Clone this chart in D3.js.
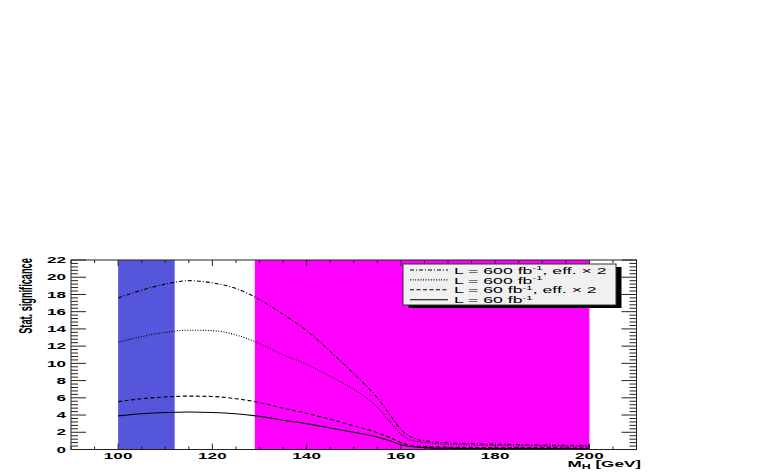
<!DOCTYPE html>
<html><head><meta charset="utf-8">
<script src="https://cdn.jsdelivr.net/npm/d3@7"></script>
<style>body{margin:0;background:#fff}svg{display:block}</style>
</head><body><svg id="c" width="763" height="474"></svg>
<script>
const masses = [100,105,110,115,120,125,130,135,140,145,150,155,158,160,162,165,170,175,180,185,190,195,200];
const sigL600eff2 = [17.6,18.5,19.2,19.6,19.35,18.7,17.4,15.7,13.8,11.4,8.8,6.0,3.8,2.3,1.5,1.0,0.78,0.68,0.62,0.57,0.53,0.5,0.48];
const sigL600     = [12.45,13.1,13.6,13.85,13.8,13.3,12.3,11.0,9.9,8.5,7.0,4.9,3.0,1.8,1.1,0.8,0.6,0.52,0.47,0.43,0.4,0.38,0.36];
const sigL60eff2  = [5.55,5.9,6.1,6.2,6.15,5.9,5.45,4.8,4.2,3.5,2.75,1.95,1.3,0.8,0.5,0.35,0.27,0.23,0.21,0.2,0.19,0.18,0.17];
const sigL60      = [3.9,4.15,4.3,4.35,4.3,4.15,3.85,3.4,3.0,2.5,2.0,1.45,0.95,0.55,0.35,0.22,0.14,0.12,0.11,0.1,0.1,0.09,0.09];
const bandBlue = [100,112];
const bandMagenta = [129,200];
const xTicks = [100,120,140,160,180,200];
const yTicks = [0,2,4,6,8,10,12,14,16,18,20,22];
const legendLabels = [
  {main:"L = 600 fb", sup:"-1", rest:", eff. \u00d7 2", dash:"4,2,1,2"},
  {main:"L = 600 fb", sup:"-1", rest:"", dash:"1,1.6"},
  {main:"L = 60 fb", sup:"-1", rest:", eff. \u00d7 2", dash:"4,2.5"},
  {main:"L = 60 fb", sup:"-1", rest:"", dash:null}
];
const seriesList = [sigL600eff2, sigL600, sigL60eff2, sigL60];

const svg = d3.select("#c");
const L=71, R=636.5, T=260, B=449.5;
const x = d3.scaleLinear().domain([90,210]).range([L,R]);
const y = d3.scaleLinear().domain([0,22]).range([B,T]);
const SX = 1.9; // horizontal text stretch
const font = "Liberation Sans, Arial, Helvetica, sans-serif";

function stext(px, py, anchor, size, weight){
  return svg.append("text").attr("transform",`translate(${px},${py}) scale(${SX},1)`)
    .attr("text-anchor",anchor).attr("font-family",font).attr("font-size",size)
    .attr("font-weight",weight).attr("fill","#000");
}

// bands
svg.append("rect").attr("x",x(bandBlue[0])).attr("y",T).attr("width",x(bandBlue[1])-x(bandBlue[0])).attr("height",B-T).attr("fill","#5656dc");
svg.append("rect").attr("x",x(bandMagenta[0])).attr("y",T).attr("width",x(bandMagenta[1])-x(bandMagenta[0])).attr("height",B-T).attr("fill","#ff00ff");

// curves
const line = d3.line().x((d,i)=>x(masses[i])).y(d=>y(d)).curve(d3.curveMonotoneX);
seriesList.forEach((s,k)=>{
  const p = svg.append("path").attr("d",line(s)).attr("fill","none").attr("stroke","#000").attr("stroke-width",1.1);
  if (legendLabels[k].dash) p.attr("stroke-dasharray",legendLabels[k].dash);
});

// frame
const axCol="#222";
svg.append("rect").attr("x",L).attr("y",T).attr("width",R-L).attr("height",B-T).attr("fill","none").attr("stroke",axCol).attr("stroke-width",1);

// x ticks (bottom and top)
d3.range(90,211,5).forEach(v=>{
  const len = xTicks.includes(v)||v%20===0?6:3;
  svg.append("line").attr("x1",x(v)).attr("x2",x(v)).attr("y1",B).attr("y2",B-len).attr("stroke",axCol);
  svg.append("line").attr("x1",x(v)).attr("x2",x(v)).attr("y1",T).attr("y2",T+len).attr("stroke",axCol);
});
// y ticks (left and right)
d3.range(0,22.01,0.4).forEach(v=>{
  const major = Math.abs(v/2-Math.round(v/2))<1e-6;
  const len = major?15:7;
  svg.append("line").attr("x1",L).attr("x2",L+len).attr("y1",y(v)).attr("y2",y(v)).attr("stroke",axCol);
  svg.append("line").attr("x1",R).attr("x2",R-len).attr("y1",y(v)).attr("y2",y(v)).attr("stroke",axCol);
});

// tick labels
xTicks.forEach(d=>stext(x(d),458.5,"middle",9,"bold").text(d));
yTicks.forEach(d=>stext(66,y(d)+3.2,"end",9,"bold").text(d));

// axis titles
svg.append("text").attr("transform","translate(32,296) rotate(-90) scale(1,1.9)").attr("text-anchor","middle")
  .attr("font-family",font).attr("font-weight","bold").attr("font-size",9.2).text("Stat. significance");
const xt = stext(641,466.5,"end",9,"bold");
xt.append("tspan").text("M");
xt.append("tspan").attr("dy",2).attr("font-size",6.5).text("H");
xt.append("tspan").attr("dy",-2).text(" [GeV]");

// legend
const lx=403, ly=264, lw=213, lh=41;
svg.append("rect").attr("x",lx+5.5).attr("y",ly+3).attr("width",lw).attr("height",lh).attr("fill","#000");
svg.append("rect").attr("x",lx).attr("y",ly).attr("width",lw).attr("height",lh).attr("fill","#f0f0f0").attr("stroke","#333").attr("stroke-width",1);
legendLabels.forEach((d,i)=>{
  const yy = ly+6+i*9.9;
  const p = svg.append("line").attr("x1",410).attr("x2",448).attr("y1",yy).attr("y2",yy).attr("stroke","#000").attr("stroke-width",1.1);
  if (d.dash) p.attr("stroke-dasharray",d.dash);
  const t = stext(454,yy+3.6,"start",9.3,"normal");
  t.append("tspan").text(d.main);
  t.append("tspan").attr("dy",-3.5).attr("font-size",6).text(d.sup);
  t.append("tspan").attr("dy",3.5).text(d.rest);
});
</script></body></html>
